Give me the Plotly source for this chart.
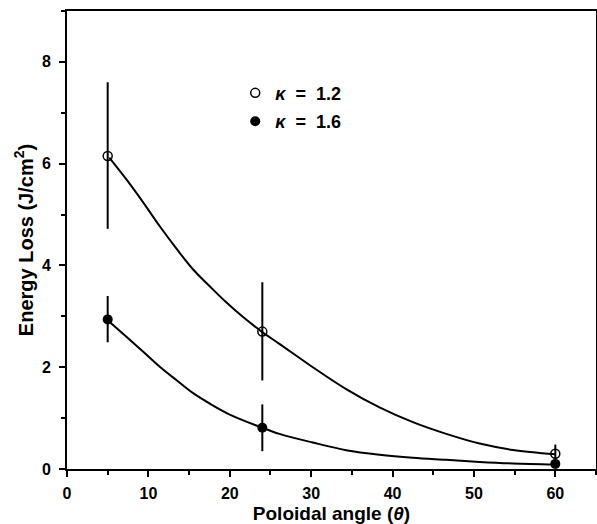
import plotly.graph_objects as go

# ---- data ----
angle = [5, 24, 60]

k12_y = [6.15, 2.70, 0.30]
k12_err_hi = [1.45, 0.97, 0.18]
k12_err_lo = [1.43, 0.96, 0.18]

k16_y = [2.94, 0.81, 0.10]
k16_err_hi = [0.46, 0.46, 0.05]
k16_err_lo = [0.45, 0.46, 0.05]

# fitted curves
fit12_x = [5.2, 7.3, 9.4, 11.4, 13.5, 15.5, 17.6, 19.6, 21.6, 24.0, 26.1,
           30.2, 34.3, 38.4, 42.5, 46.6, 50.7, 54.8, 60.0]
fit12_y = [6.12, 5.69, 5.23, 4.77, 4.32, 3.92, 3.58, 3.27, 2.99, 2.69, 2.46,
           2.00, 1.57, 1.21, 0.92, 0.69, 0.50, 0.375, 0.29]

fit16_x = [5.1, 7.3, 9.4, 11.4, 13.5, 15.5, 17.6, 20.0, 24.0, 26.1, 30.2,
           34.3, 38.4, 42.5, 46.6, 50.7, 54.8, 60.0]
fit16_y = [2.91, 2.60, 2.30, 2.01, 1.74, 1.49, 1.28, 1.07, 0.81, 0.69, 0.52,
           0.37, 0.28, 0.22, 0.18, 0.14, 0.11, 0.09]

x_ticks = [0, 10, 20, 30, 40, 50, 60]
y_ticks = [0, 2, 4, 6, 8]

FONT = "Liberation Sans, Arial, sans-serif"
BLACK = "black"

fig = go.Figure()

fig.add_trace(go.Scatter(x=fit12_x, y=fit12_y, mode="lines",
                         line=dict(color=BLACK, width=2, shape="spline"),
                         showlegend=False, hoverinfo="skip"))
fig.add_trace(go.Scatter(x=fit16_x, y=fit16_y, mode="lines",
                         line=dict(color=BLACK, width=2, shape="spline"),
                         showlegend=False, hoverinfo="skip"))

fig.add_trace(go.Scatter(
    x=angle, y=k12_y, mode="markers", name="<i>κ</i>  =  1.2",
    legendgroup="a",
    marker=dict(symbol="circle-open", size=9, color=BLACK, line=dict(width=1.5)),
    error_y=dict(type="data", symmetric=False, array=k12_err_hi,
                 arrayminus=k12_err_lo, color=BLACK, thickness=2, width=0)))
fig.add_trace(go.Scatter(
    x=angle, y=k16_y, mode="markers", name="<i>κ</i>  =  1.6",
    legendgroup="b",
    marker=dict(symbol="circle", size=10, color=BLACK),
    error_y=dict(type="data", symmetric=False, array=k16_err_hi,
                 arrayminus=k16_err_lo, color=BLACK, thickness=2, width=0)))

axis_common = dict(showline=True, linecolor=BLACK, linewidth=2, mirror=True,
                   ticks="outside", tickcolor=BLACK, tickwidth=2, ticklen=6,
                   showgrid=False, zeroline=False, automargin=False,
                   tickfont=dict(family=FONT, size=16, color=BLACK, weight="bold"))

fig.update_layout(
    width=597, height=524,
    margin=dict(l=67, r=1, t=11, b=55, autoexpand=False),
    plot_bgcolor="white", paper_bgcolor="white",
    font=dict(family=FONT, color=BLACK),
    xaxis=dict(range=[0, 65], tickvals=x_ticks, ticklabelstandoff=3,
               minor=dict(dtick=5, ticks="outside", ticklen=4, tickwidth=2, tickcolor=BLACK),
               title=dict(text="Poloidal angle (<i>θ</i>)", standoff=8,
                          font=dict(family=FONT, size=19, color=BLACK, weight="bold")),
               **axis_common),
    yaxis=dict(range=[0, 9], tickvals=y_ticks, ticklabelstandoff=5,
               minor=dict(dtick=1, ticks="outside", ticklen=4, tickwidth=2, tickcolor=BLACK),
               title=dict(text="Energy Loss (J/cm<sup>2</sup>)", standoff=3,
                          font=dict(family=FONT, size=20, color=BLACK, weight="bold")),
               **axis_common),
    legend=dict(x=0.318, y=0.861, xanchor="left", yanchor="top",
                bgcolor="rgba(0,0,0,0)", tracegroupgap=2,
                font=dict(family=FONT, size=18, color=BLACK, weight="bold")),
)

fig.write_html("out.html", config={"displayModeBar": False},
               post_script="document.body.style.margin='0';document.body.style.overflow='hidden';")
